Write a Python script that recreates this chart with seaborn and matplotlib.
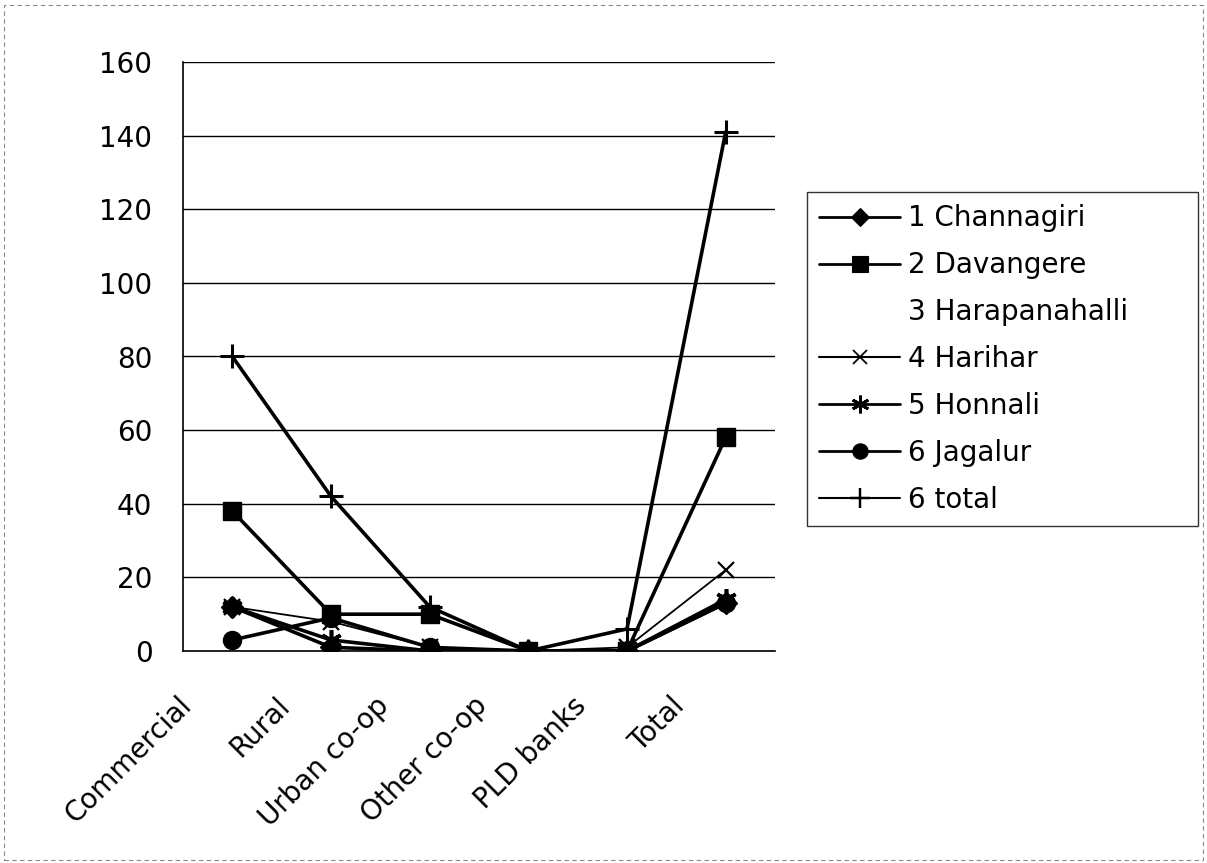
import numpy as np
import pandas as pd
import matplotlib
matplotlib.use("Agg")
import matplotlib.pyplot as plt
from matplotlib.lines import Line2D
from matplotlib.patches import Rectangle
from matplotlib.transforms import ScaledTranslation
import seaborn as sns

banks = ["Commercial", "Rural", "Urban co-op", "Other co-op", "PLD banks", "Total"]

channagiri = [12, 1, 0, 0, 0, 13]
davangere = [38, 10, 10, 0, 0, 58]
harapanahalli = [3, 11, 0, 0, 5, 21]   # series has no line/marker in the chart
harihar = [12, 8, 1, 0, 1, 22]
honnali = [12, 3, 0, 0, 0, 14]
jagalur = [3, 9, 1, 0, 0, 13]
total = [80, 42, 12, 0, 6, 141]

series_names = ["1 Channagiri", "2 Davangere", "3 Harapanahalli", "4 Harihar",
                "5 Honnali", "6 Jagalur", "6 total"]
series_values = [channagiri, davangere, harapanahalli, harihar, honnali, jagalur, total]

# long form table for seaborn
rows = []
for name, vals in zip(series_names, series_values):
    for b, v in zip(banks, vals):
        rows.append({"bank": b, "value": v, "series": name})
df = pd.DataFrame(rows)

sns.set_style("white")
plt.rcParams["font.family"] = ["DejaVu Sans"]
plt.rcParams["text.color"] = "black"

# marker, markersize, mew, linewidth
styles = {
    "1 Channagiri": dict(marker="D", markersize=11, mew=1, lw=2.6),
    "2 Davangere": dict(marker="s", markersize=13, mew=1, lw=2.6),
    "3 Harapanahalli": None,
    "4 Harihar": dict(marker="x", markersize=12, mew=1.6, lw=1.3),
    "5 Honnali": dict(marker=(6, 2, 0), markersize=15, mew=2.6, lw=2.6),
    "6 Jagalur": dict(marker="o", markersize=13, mew=1, lw=2.6),
    "6 total": dict(marker="+", markersize=17, mew=2.2, lw=2.6),
}

fig = plt.figure(figsize=(12.07, 8.63), dpi=100)
ax = fig.add_axes([183 / 1207, 212 / 863, 592 / 1207, 589 / 863])

handles = []
for name in series_names:
    st = styles[name]
    sub = df[df["series"] == name]
    if st is None:
        handles.append(Line2D([], [], linestyle="none", marker=None, label=name))
        continue
    sns.lineplot(data=sub, x="bank", y="value", ax=ax, color="black",
                 marker=st["marker"], markersize=st["markersize"],
                 markeredgewidth=st["mew"], markeredgecolor="black",
                 markerfacecolor="black", linewidth=st["lw"],
                 errorbar=None, sort=False, legend=False)
    lw_leg = 1.5 if name in ("4 Harihar", "6 total") else 2.0
    handles.append(Line2D([], [], color="black", marker=st["marker"],
                          markersize=st["markersize"] * 0.85,
                          markeredgewidth=st["mew"] * 0.8, linewidth=lw_leg,
                          label=name))

ax.set_xlim(-0.5, 5.5)
ax.set_ylim(0, 160)
ax.set_yticks(np.arange(0, 161, 20))
ax.set_xticks(range(len(banks)))
ax.set_xticks(np.arange(-0.5, 6, 1), minor=True)
ax.set_xlabel("")
ax.set_ylabel("")

ax.grid(axis="y", color="black", linewidth=1)
ax.grid(axis="x", visible=False)
ax.set_axisbelow(True)
for s in ["top", "right"]:
    ax.spines[s].set_visible(False)
for s in ["left", "bottom"]:
    ax.spines[s].set_color("black")
    ax.spines[s].set_linewidth(1.2)

ax.tick_params(axis="y", which="major", direction="out", length=7, width=1,
               color="black", pad=15, labelsize=20, labelcolor="black")
ax.tick_params(axis="x", which="major", length=0, pad=29, labelsize=20,
               labelcolor="black")
ax.tick_params(axis="x", which="minor", direction="out", length=7, width=1,
               color="black")

ax.set_xticklabels(banks, rotation=45, ha="right", va="top",
                   rotation_mode="anchor")
shift = ScaledTranslation(-0.55, 0, fig.dpi_scale_trans)
for lab in ax.get_xticklabels():
    lab.set_transform(lab.get_transform() + shift)

leg_x0, leg_x1 = 807 / 1207, 1198 / 1207
leg_top, leg_bot = 1 - 192 / 863, 1 - 522 / 863
leg = fig.legend(handles=handles, loc="upper left", mode="expand",
                 bbox_to_anchor=(leg_x0, leg_bot, leg_x1 - leg_x0, leg_top - leg_bot),
                 bbox_transform=fig.transFigure, frameon=True, fancybox=False,
                 shadow=False, fontsize=20, handlelength=2.9, handletextpad=0.3,
                 labelspacing=0.68, borderpad=0.45, borderaxespad=0)
leg.get_frame().set_edgecolor("black")
leg.get_frame().set_linewidth(1)
for t in leg.get_texts():
    t.set_color("black")

# outer chart border
fig.patches.append(Rectangle((0.003, 0.003), 0.994, 0.991, transform=fig.transFigure,
                             fill=False, edgecolor="#888888", linewidth=0.8,
                             linestyle=(0, (4, 3))))

fig.savefig("out.png", dpi=100)
